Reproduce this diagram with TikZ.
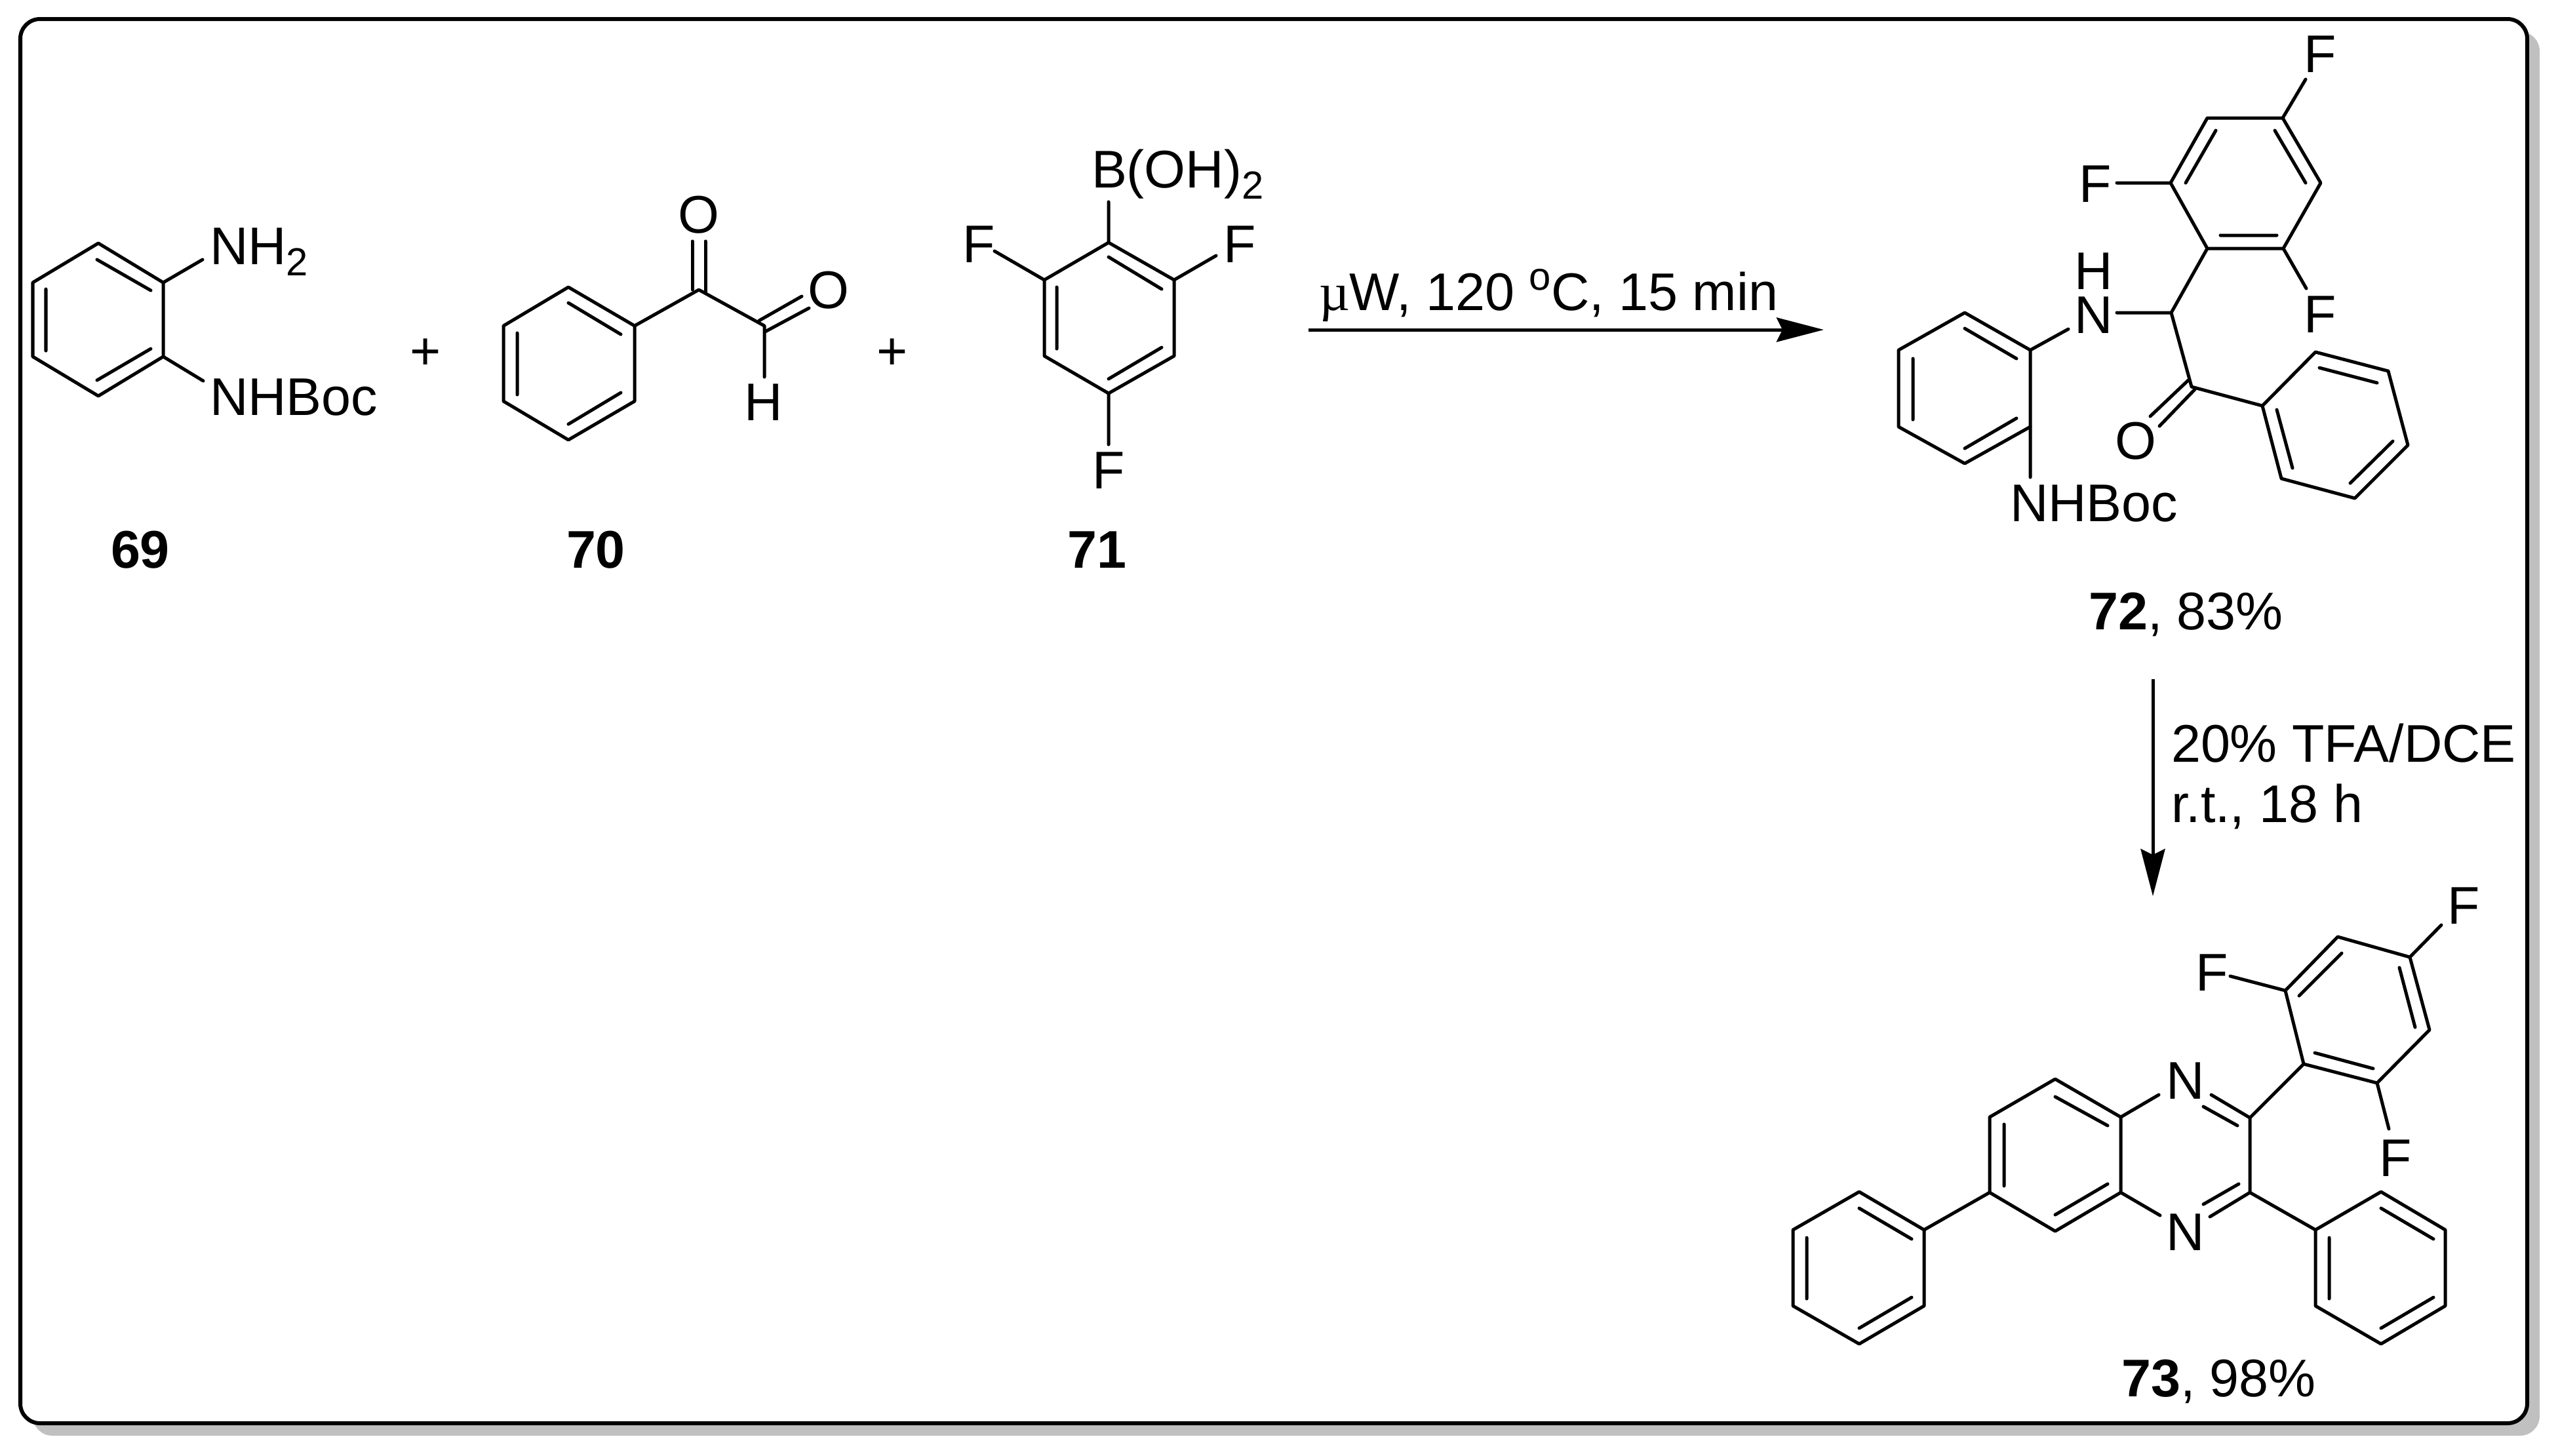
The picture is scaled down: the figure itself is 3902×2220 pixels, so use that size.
\documentclass[tikz,border=0pt]{standalone}
\usepackage{fontspec}
\setmainfont{Liberation Sans}
\newfontfamily\muface{Liberation Serif}
\usetikzlibrary{arrows.meta}
\newcommand{\subtwo}{\raisebox{-0.17cm}{\fontsize{17pt}{19pt}\selectfont 2}}
\definecolor{shadowgray}{RGB}{192,192,192}
\tikzset{
  bond/.style={line width=0.05cm, line cap=round, line join=round},
  atom/.style={font=\fontsize{23pt}{25pt}\selectfont, inner sep=0pt, outer sep=0pt, anchor=base},
  atomw/.style={atom, anchor=base west},
  cmpd/.style={atom, font=\fontsize{23pt}{25pt}\selectfont\bfseries},
  rxn/.style={line width=0.05cm, -{Stealth[length=0.72cm, width=0.37cm, inset=0.09cm]}},
  plus/.style={font=\fontsize{23pt}{25pt}\selectfont, inner sep=0pt, anchor=center},
  panel/.style={line width=0.06cm, draw=black, fill=white, rounded corners=0.3cm},
  panelshadow/.style={fill=shadowgray, rounded corners=0.3cm},
}
\begin{document}
\begin{tikzpicture}[x=0.01cm, y=-0.01cm]
\useasboundingbox (0,0) rectangle (3902,2220);
\fill[white] (0,0) rectangle (3902,2220);
\path[panelshadow] (50,48) rectangle (3874,2190);
\path[panel] (31,29) rectangle (3855,2171);

% 69
\draw[bond] (150,371)--(249,431)--(249,544)--(150,604)--(50,544)--(50,431)--cycle;
\draw[bond] (148,396)--(230,443) (230,532)--(148,580) (70,441)--(70,535);
\draw[bond] (249,431)--(309,396) (249,544)--(310,581);
\node[atomw] (a69n) at (320,403) {NH\subtwo};
\node[atomw] (a69b) at (320,633) {NHBoc};
\node[cmpd] (l69) at (214,866) {69};
\node[plus] (p1) at (649,540) {+};

% 70
\draw[bond] (867,438)--(968,497)--(968,612)--(867,671)--(768,612)--(768,497)--cycle;
\draw[bond] (867,462)--(947,510) (947,599)--(867,647) (789,508)--(789,602);
\draw[bond] (968,497)--(1066,442)--(1166,497)--(1166,575);
\draw[bond] (1056,442)--(1056,368) (1076,446)--(1076,368);
\draw[bond] (1158,489)--(1223,452) (1167,506)--(1234,470);
\node[atom] (o70a) at (1066,355) {O};
\node[atom] (o70b) at (1264,470) {O};
\node[atom] (h70) at (1165,641) {H};
\node[cmpd] (l70) at (909,866) {70};
\node[plus] (p2) at (1361,540) {+};

% 71
\draw[bond] (1691,370)--(1791,427)--(1791,543)--(1691,600)--(1593,543)--(1593,427)--cycle;
\draw[bond] (1691,392)--(1772,441) (1772,530)--(1691,578) (1612,438)--(1612,532);
\draw[bond] (1691,308)--(1691,370) (1593,427)--(1517,383) (1791,427)--(1855,390) (1691,600)--(1691,678);
\node[atomw] (b71) at (1665,286) {B(OH)\subtwo};
\node[atom] (f71a) at (1493,400) {F};
\node[atom] (f71b) at (1891,400) {F};
\node[atom] (f71c) at (1691,745) {F};
\node[cmpd] (l71) at (1673,866) {71};

% arrow 1
\coordinate (r1s) at (1996,503);
\coordinate (r1e) at (2782,503);
\draw[rxn] (r1s)--(r1e);
\node[atomw] (c1) at (2012,473) {{\muface µ}W, 120 \raisebox{0.3cm}{\fontsize{17pt}{19pt}\selectfont o}C, 15 min};

% 72
\draw[bond] (3482,180)--(3367,180)--(3311,279)--(3367,379)--(3483,379)--(3540,279)--cycle;
\draw[bond] (3380,199)--(3334,279) (3470,199)--(3517,279) (3387,359)--(3473,359);
\draw[bond] (3482,180)--(3517,121) (3311,279)--(3229,279) (3483,379)--(3518,440);
\node[atom] (f72a) at (3539,110) {F};
\node[atom] (f72b) at (3196,308) {F};
\node[atom] (f72c) at (3539,507) {F};
\draw[bond] (3367,379)--(3312,477)--(3229,477) (3312,477)--(3343,590)--(3451,619);
\node[atom] (n72) at (3194,508) {N};
\node[atom] (h72) at (3194,441) {H};
\draw[bond] (2997,477)--(3097,534)--(3097,651)--(2997,707)--(2896,651)--(2896,534)--cycle;
\draw[bond] (2997,501)--(3076,547) (3076,638)--(2997,684) (2918,547)--(2918,640);
\draw[bond] (3097,534)--(3155,502) (3097,651)--(3097,728);
\node[atomw] (b72) at (3066,795) {NHBoc};
\draw[bond] (3338,580)--(3280,635) (3348,594)--(3294,650);
\node[atom] (o72) at (3258,700) {O};
\draw[bond] (3451,619)--(3532,537)--(3643,566)--(3673,679)--(3592,760)--(3480,730)--cycle;
\draw[bond] (3538,561)--(3626,584) (3650,673)--(3585,737) (3473,625)--(3497,714);
\node[atomw] (l72) at (3186,960) {\textbf{72}, 83\%};

% arrow 2
\coordinate (r2s) at (3284,1036);
\coordinate (r2e) at (3284,1367);
\draw[rxn] (r2s)--(r2e);
\node[atomw] (c2a) at (3312,1162) {20\% TFA/DCE};
\node[atomw] (c2b) at (3312,1254) {r.t., 18 h};

% 73
\draw[bond] (3135,1646)--(3235,1704)--(3235,1819)--(3135,1878)--(3035,1819)--(3035,1704)--cycle;
\draw[bond] (3135,1673)--(3215,1717) (3215,1806)--(3135,1853) (3057,1715)--(3057,1809);
\draw[bond] (3235,1704)--(3293,1670) (3235,1819)--(3295,1854);
\draw[bond] (3373,1670)--(3432,1705)--(3432,1819)--(3371,1856);
\draw[bond] (3361,1688)--(3413,1717) (3415,1806)--(3361,1837);
\node[atom] (n73a) at (3334,1676) {N};
\node[atom] (n73b) at (3334,1907) {N};
\draw[bond] (2836,1818)--(2935,1876)--(2935,1992)--(2836,2050)--(2735,1992)--(2735,1876)--cycle;
\draw[bond] (2836,1843)--(2916,1890) (2916,1979)--(2836,2026) (2756,1888)--(2756,1981);
\draw[bond] (3035,1819)--(2935,1876);
\draw[bond] (3632,1818)--(3730,1876)--(3730,1992)--(3632,2050)--(3532,1992)--(3532,1876)--cycle;
\draw[bond] (3632,1843)--(3712,1890) (3712,1979)--(3632,2026) (3553,1888)--(3553,1981);
\draw[bond] (3432,1819)--(3532,1876);
\draw[bond] (3514,1623)--(3626,1652)--(3706,1571)--(3676,1460)--(3566,1429)--(3486,1511)--cycle;
\draw[bond] (3531,1606)--(3620,1630) (3684,1567)--(3660,1476) (3572,1454)--(3507,1519);
\draw[bond] (3432,1705)--(3514,1623) (3486,1511)--(3402,1489) (3676,1460)--(3724,1411) (3626,1652)--(3644,1722);
\node[atom] (f73a) at (3374,1511) {F};
\node[atom] (f73b) at (3758,1409) {F};
\node[atom] (f73c) at (3654,1794) {F};
\node[atomw] (l73) at (3236,2130) {\textbf{73}, 98\%};
\end{tikzpicture}
\end{document}
